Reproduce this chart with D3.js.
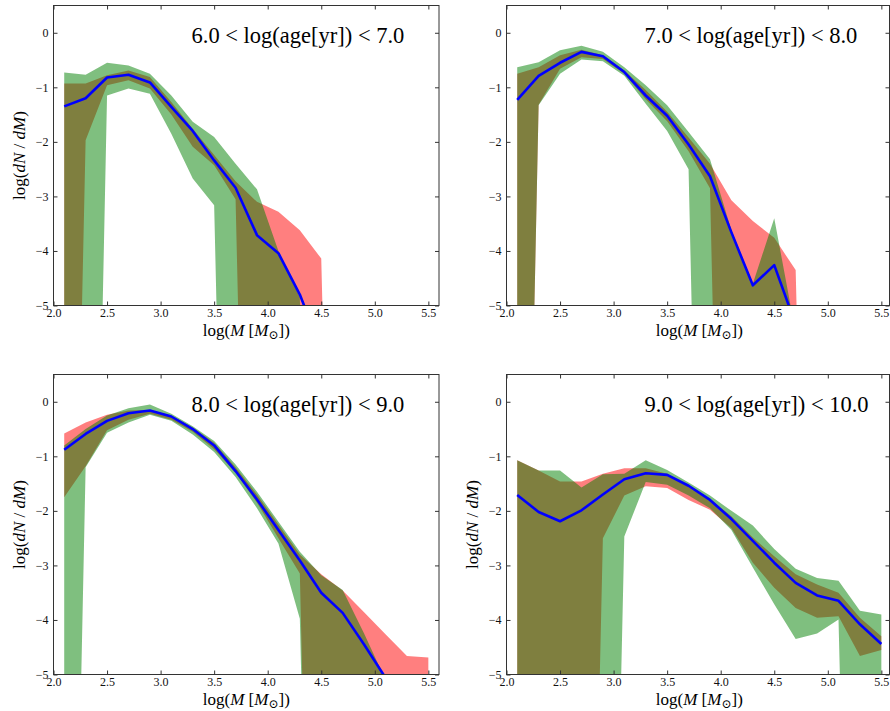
<!DOCTYPE html>
<html>
<head>
<meta charset="utf-8">
<script src="https://cdn.jsdelivr.net/npm/d3@7"></script>
<style>
body { margin: 0; background: #fff; }
svg { display: block; font-family: 'Liberation Serif', 'DejaVu Serif', serif; }
.tick text { font-size: 12px; fill: #111; }
.tick line { stroke: #333; }
.frame { fill: none; stroke: #333; stroke-width: 1; }
.title { font-size: 22.5px; fill: #000; }
.axis-label { font-size: 17px; fill: #000; }
</style>
</head>
<body>
<svg id="figure" width="890" height="711"></svg>
<script>

// mass bin centres, log(M / Msun)
var masses = [2.1, 2.3, 2.5, 2.7, 2.9, 3.1, 3.3, 3.5, 3.7, 3.9, 4.1, 4.3, 4.5, 4.7, 4.9, 5.1, 5.3, 5.5]
var NONE = -20 // empty bin, log(0) falls far below the axis

var ageBins = ['6.0 < log(age[yr]) < 7.0', '7.0 < log(age[yr]) < 8.0', '8.0 < log(age[yr]) < 9.0', '9.0 < log(age[yr]) < 10.0']

var xTicks = [2.0, 2.5, 3.0, 3.5, 4.0, 4.5, 5.0, 5.5]
var yTicks = [-5, -4, -3, -2, -1, 0]

// 6 < log(age) < 7
var redHigh1 = [-0.93, -0.93, -0.78, -0.69, -0.81, -1.27, -1.76, -2.24, -2.72, -3.10, -3.28, -3.62, -4.14, NONE, NONE, NONE, NONE, NONE]
var redLow1 = [NONE, -1.97, -0.96, -0.87, -1.02, -1.50, -2.09, -2.43, -3.05, NONE, NONE, NONE, NONE, NONE, NONE, NONE, NONE, NONE]
var greenHigh1 = [-0.73, -0.77, -0.55, -0.60, -0.75, -1.15, -1.63, -1.91, -2.40, -2.87, -4.00, -4.85, NONE, NONE, NONE, NONE, NONE, NONE]
var greenLow1 = [NONE, NONE, -1.15, -1.02, -1.12, -1.85, -2.67, -3.16, NONE, NONE, NONE, NONE, NONE, NONE, NONE, NONE, NONE, NONE]
var fit1 = [-1.35, -1.20, -0.82, -0.77, -0.91, -1.36, -1.80, -2.34, -2.84, -3.71, -4.04, -4.80, -5.80, null, null, null, null, null]

// 7 < log(age) < 8
var redHigh2 = [-0.75, -0.63, -0.41, -0.31, -0.41, -0.69, -1.05, -1.45, -1.92, -2.40, -3.07, -3.45, -3.76, -4.35, NONE, NONE, NONE, NONE]
var redLow2 = [NONE, -1.32, -0.66, -0.45, -0.48, -0.75, -1.22, -1.62, -2.17, -2.85, NONE, NONE, NONE, NONE, NONE, NONE, NONE, NONE]
var greenHigh2 = [-0.63, -0.54, -0.32, -0.24, -0.35, -0.63, -0.96, -1.33, -1.82, -2.32, -3.62, -4.60, -3.40, -5.50, NONE, NONE, NONE, NONE]
var greenLow2 = [NONE, -1.33, -0.75, -0.49, -0.52, -0.79, -1.30, -1.80, -2.50, NONE, NONE, NONE, NONE, NONE, NONE, NONE, NONE, NONE]
var fit2 = [-1.23, -0.79, -0.55, -0.35, -0.43, -0.72, -1.15, -1.52, -2.05, -2.63, -3.66, -4.63, -4.26, -5.35, null, null, null, null]

// 8 < log(age) < 9
var redHigh3 = [-0.58, -0.38, -0.24, -0.16, -0.15, -0.25, -0.47, -0.75, -1.20, -1.70, -2.25, -2.80, -3.16, -3.46, -3.86, -4.26, -4.66, -4.69]
var redLow3 = [-1.75, -1.18, -0.52, -0.33, -0.22, -0.33, -0.55, -0.87, -1.30, -1.85, -2.50, -3.15, NONE, NONE, NONE, NONE, NONE, NONE]
var greenHigh3 = [-0.80, -0.50, -0.25, -0.12, -0.05, -0.22, -0.45, -0.72, -1.15, -1.65, -2.20, -2.75, -3.18, -3.45, -4.25, -5.10, NONE, NONE]
var greenLow3 = [NONE, -1.20, -0.57, -0.38, -0.24, -0.35, -0.60, -0.92, -1.38, -1.95, -2.60, -3.98, NONE, NONE, NONE, NONE, NONE, NONE]
var fit3 = [-0.88, -0.59, -0.35, -0.21, -0.16, -0.27, -0.50, -0.80, -1.27, -1.79, -2.35, -2.91, -3.50, -3.87, -4.45, -5.06, null, null]

// 9 < log(age) < 10
var redHigh4 = [-1.07, -1.26, -1.46, -1.46, -1.32, -1.22, -1.22, -1.32, -1.54, -1.78, -2.10, -2.49, -2.83, -3.16, -3.35, -3.50, -3.96, -4.30]
var redLow4 = [NONE, NONE, NONE, NONE, -2.50, -1.72, -1.55, -1.58, -1.80, -1.98, -2.32, -2.95, -3.41, -3.78, -3.96, -3.93, -4.66, -4.55]
var greenHigh4 = [-1.07, -1.26, -1.26, -1.57, -1.33, -1.32, -1.07, -1.25, -1.48, -1.72, -2.00, -2.27, -2.70, -3.06, -3.23, -3.28, -3.83, -3.90]
var greenLow4 = [NONE, NONE, NONE, NONE, NONE, -2.47, -1.47, -1.52, -1.72, -1.95, -2.35, -3.04, -3.71, -4.35, -4.25, -3.99, NONE, NONE]
var fit4 = [-1.71, -2.02, -2.19, -1.99, -1.70, -1.42, -1.31, -1.34, -1.54, -1.80, -2.15, -2.55, -2.95, -3.32, -3.55, -3.65, -4.08, -4.44]

var panels = [
    { title: ageBins[0], redLow: redLow1, redHigh: redHigh1, greenLow: greenLow1, greenHigh: greenHigh1, fit: fit1 },
    { title: ageBins[1], redLow: redLow2, redHigh: redHigh2, greenLow: greenLow2, greenHigh: greenHigh2, fit: fit2 },
    { title: ageBins[2], redLow: redLow3, redHigh: redHigh3, greenLow: greenLow3, greenHigh: greenHigh3, fit: fit3 },
    { title: ageBins[3], redLow: redLow4, redHigh: redHigh4, greenLow: greenLow4, greenHigh: greenHigh4, fit: fit4 }
]

var layout = {
    pxPerUnit: 107.1, // x pixels per dex
    height: 300,
    tick: 4,
    boxes: [
        { x: 53.5, y: 5.5, right: 439, yLabel: true },
        { x: 506.5, y: 5.5, right: 889.5, yLabel: false },
        { x: 53.5, y: 374.5, right: 439, yLabel: true },
        { x: 506.5, y: 374.5, right: 889.5, yLabel: true }
    ]
}

function drawPanel(svg, series, box, index) {
    var width = box.right - box.x
    var height = layout.height

    var xScale = d3.scaleLinear()
        .domain([2, 2 + width / layout.pxPerUnit])
        .range([0, width])
    var yScale = d3.scaleLinear()
        .domain([-5, 0.5])
        .range([height, 0])

    var panel = svg.append('g')
        .attr('transform', 'translate(' + box.x + ', ' + box.y + ')')

    panel.append('clipPath')
        .attr('id', 'clip' + index)
        .append('rect')
        .attr('width', width)
        .attr('height', height)

    var plot = panel.append('g')
        .attr('clip-path', 'url(#clip' + index + ')')

    function band(low, high) {
        return d3.area()
            .x(function (d, i) { return xScale(masses[i]) })
            .y0(function (d, i) { return yScale(low[i]) })
            .y1(function (d, i) { return yScale(high[i]) })(masses)
    }

    plot.append('path')
        .attr('d', band(series.redLow, series.redHigh))
        .attr('fill', '#ff0000')
        .attr('fill-opacity', 0.5)

    plot.append('path')
        .attr('d', band(series.greenLow, series.greenHigh))
        .attr('fill', '#008000')
        .attr('fill-opacity', 0.5)

    plot.append('path')
        .attr('d', d3.line()
            .defined(function (d) { return d !== null })
            .x(function (d, i) { return xScale(masses[i]) })
            .y(function (d) { return yScale(d) })(series.fit))
        .attr('fill', 'none')
        .attr('stroke', '#0000ff')
        .attr('stroke-width', 2.6)
        .attr('stroke-linejoin', 'round')

    function clean(axis) {
        axis.attr('font-family', null).attr('font-size', null)
        axis.select('.domain').remove()
    }

    panel.append('g')
        .attr('transform', 'translate(0, ' + height + ')')
        .call(d3.axisBottom(xScale).tickValues(xTicks).tickSize(-layout.tick).tickPadding(3).tickFormat(d3.format('.1f')))
        .call(clean)
    panel.append('g')
        .call(d3.axisTop(xScale).tickValues(xTicks).tickSize(-layout.tick).tickFormat(''))
        .call(clean)
    panel.append('g')
        .call(d3.axisLeft(yScale).tickValues(yTicks).tickSize(-layout.tick).tickPadding(5).tickFormat(d3.format('d')))
        .call(clean)
    panel.append('g')
        .attr('transform', 'translate(' + width + ', 0)')
        .call(d3.axisRight(yScale).tickValues(yTicks).tickSize(-layout.tick).tickFormat(''))
        .call(clean)

    panel.append('rect')
        .attr('class', 'frame')
        .attr('width', width)
        .attr('height', height)

    panel.append('text')
        .attr('class', 'title')
        .attr('x', 138)
        .attr('y', 37.5)
        .text(series.title)

    var xLabel = panel.append('text')
        .attr('class', 'axis-label')
        .attr('text-anchor', 'middle')
        .attr('x', layout.pxPerUnit * 1.8)
        .attr('y', height + 30)
    xLabel.append('tspan').text('log(')
    xLabel.append('tspan').attr('font-style', 'italic').text('M')
    xLabel.append('tspan').text(' [')
    xLabel.append('tspan').attr('font-style', 'italic').text('M')
    xLabel.append('tspan').attr('font-size', '12px').attr('dy', 3).text('\u2299')
    xLabel.append('tspan').attr('dy', -3).text('])')

    if (box.yLabel) {
        var yLabel = panel.append('text')
            .attr('class', 'axis-label')
            .attr('text-anchor', 'middle')
            .attr('transform', 'translate(-29, ' + (height / 2) + ') rotate(-90)')
        yLabel.append('tspan').text('log(')
        yLabel.append('tspan').attr('font-style', 'italic').text('dN')
        yLabel.append('tspan').text(' / ')
        yLabel.append('tspan').attr('font-style', 'italic').text('dM')
        yLabel.append('tspan').text(')')
    }
}

var svg = d3.select('#figure')

panels.forEach(function (series, i) {
    drawPanel(svg, series, layout.boxes[i], i)
})

</script>
</body>
</html>
